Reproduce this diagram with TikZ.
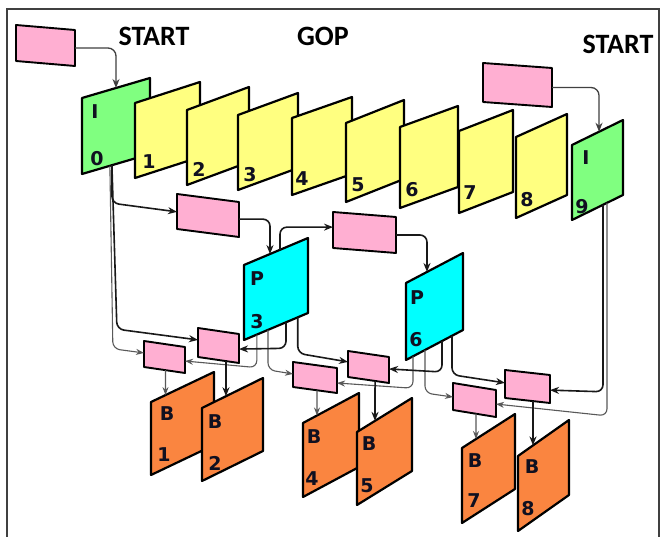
\documentclass[tikz,border=0pt]{standalone}
\usepackage{fontspec}
\usetikzlibrary{arrows.meta,calc}
\newfontfamily\framefont{DejaVu Sans}
\newfontfamily\headfont{Carlito}

\definecolor{gopgreen}{HTML}{80FF80}
\definecolor{gopyellow}{HTML}{FFFF80}
\definecolor{gopcyan}{HTML}{00FFFF}
\definecolor{goporange}{HTML}{FA8540}
\definecolor{refpink}{HTML}{FFAFD2}
\definecolor{labelink}{HTML}{101020}

\tikzset{
  frameline/.style={draw=black, line width=2.2pt, line join=round},
  pinkline/.style={draw=black, line width=1.9pt, fill=refpink, line join=round},
  link/.style={draw=black!90, line width=1.6pt, rounded corners=7pt,
    -{Stealth[length=9pt,width=7pt]}},
  faint/.style={draw=black!65, line width=1.1pt, rounded corners=7pt,
    -{Stealth[length=8pt,width=6pt]}},
  startlink/.style={draw=black!75, line width=1.3pt, rounded corners=8pt,
    -{Stealth[length=9pt,width=7pt]}},
  framelab/.style={font=\framefont\bfseries\fontsize{19}{19}\selectfont,
    text=labelink, inner sep=0pt},
  headlab/.style={font=\headfont\bfseries\fontsize{28}{28}\selectfont,
    text=black, inner sep=0pt},
}

% picture frame: name, fill colour, x, y of top-left corner, width, rise, height
\newcommand{\gopframe}[7]{%
  \draw[frameline, fill=#2] (#3,#4) coordinate (#1-tl)
    -- ++(#5,-#6) coordinate (#1-tr)
    -- ++(0,#7) coordinate (#1-br)
    -- ++(-#5,#6) coordinate (#1-bl) -- cycle;}

% reference box: name, x, y of top-left corner, width, height, drop
\newcommand{\refbox}[6]{%
  \draw[pinkline] (#2,#3) coordinate (#1-tl)
    -- ++(#4,#6) coordinate (#1-tr)
    -- ++(0,#5) coordinate (#1-br)
    -- ++(-#4,-#6) coordinate (#1-bl) -- cycle;}

\begin{document}
\begin{tikzpicture}[x=1pt,y=-1pt]
\useasboundingbox (0,0) rectangle (665,537);
\fill[white] (0,0) rectangle (665,537);

% outer frame
\draw[draw=black!75, line width=1.4pt] (7,537) -- (7,9) -- (659,9) -- (659,537);

% headings
\node[headlab] (h-start1) at (154,36) {START};
\node[headlab] (h-gop) at (323,36) {GOP};
\node[headlab] (h-start2) at (618,44) {START};

% the GOP row
\gopframe{I0}{gopgreen}{82}{98}{68}{20}{76}
\gopframe{Y1}{gopyellow}{135}{103}{65}{21}{75}
\gopframe{Y2}{gopyellow}{187}{110}{62}{23}{75}
\gopframe{Y3}{gopyellow}{238}{115}{60}{22}{75}
\gopframe{Y4}{gopyellow}{292}{118}{60}{21}{77}
\gopframe{Y5}{gopyellow}{346}{123}{58}{23}{79}
\gopframe{Y6}{gopyellow}{400}{127}{58}{21}{81}
\gopframe{Y7}{gopyellow}{459}{131}{54}{21}{82}
\gopframe{Y8}{gopyellow}{516}{137}{51}{23}{81}
\gopframe{I9}{gopgreen}{572}{145}{51}{25}{75}

% predicted frames
\gopframe{P3}{gopcyan}{244}{265}{64}{27}{75}
\gopframe{P6}{gopcyan}{406}{283}{57}{30}{77}

% bidirectional frames
\gopframe{B1}{goporange}{151}{402}{63}{30}{73}
\gopframe{B2}{goporange}{202}{408}{61}{30}{73}
\gopframe{B4}{goporange}{303}{423}{56}{30}{74}
\gopframe{B5}{goporange}{357}{432}{55}{34}{73}
\gopframe{B7}{goporange}{462}{448}{53}{34}{75}
\gopframe{B8}{goporange}{518}{456}{51}{36}{75}

% frame labels
\node[framelab] (l-i0a) at (95,112) {I};
\node[framelab] (l-i0b) at (97,159) {0};
\node[framelab] (l-y1) at (149,162) {1};
\node[framelab] (l-y2) at (199,169) {2};
\node[framelab] (l-y3) at (250,175) {3};
\node[framelab] (l-y4) at (302,179) {4};
\node[framelab] (l-y5) at (358,185) {5};
\node[framelab] (l-y6) at (412,190) {6};
\node[framelab] (l-y7) at (470,193) {7};
\node[framelab] (l-y8) at (527,200) {8};
\node[framelab] (l-i9a) at (586,158) {I};
\node[framelab] (l-i9b) at (582,207) {9};
\node[framelab] (l-p3a) at (257,279) {P};
\node[framelab] (l-p3b) at (257,322) {3};
\node[framelab] (l-p6a) at (417,298) {P};
\node[framelab] (l-p6b) at (416,340) {6};
\node[framelab] (l-b1a) at (167,414) {B};
\node[framelab] (l-b1b) at (164,455) {1};
\node[framelab] (l-b2a) at (215,422) {B};
\node[framelab] (l-b2b) at (215,463) {2};
\node[framelab] (l-b4a) at (314,437) {B};
\node[framelab] (l-b4b) at (312,479) {4};
\node[framelab] (l-b5a) at (369,444) {B};
\node[framelab] (l-b5b) at (367,486) {5};
\node[framelab] (l-b7a) at (475,461) {B};
\node[framelab] (l-b7b) at (474,501) {7};
\node[framelab] (l-b8a) at (532,467) {B};
\node[framelab] (l-b8b) at (528,509) {8};

% reference boxes
\refbox{R0}{16}{25}{59}{36}{5}
\refbox{R1}{177}{194}{62}{35}{8}
\refbox{R2}{333}{212}{63}{36}{5}
\refbox{R9}{483}{63}{69}{39}{5}
\refbox{RB1}{144}{341}{41}{26}{6}
\refbox{RB2}{198}{328}{41}{29}{6}
\refbox{RB4}{293}{362}{44}{25}{6}
\refbox{RB5}{348}{351}{41}{26}{6}
\refbox{RB7}{453}{383}{43}{27}{7}
\refbox{RB8}{505}{370}{45}{28}{5}

% start of each GOP
\draw[startlink] ($(R0-tr)!0.5!(R0-br)$) -| ($(I0-tl)!0.5!(I0-tr)$);
\draw[startlink] ($(R9-tr)!0.5!(R9-br)$) -| ($(I9-tl)!0.53!(I9-tr)$);

% forward prediction chain
\draw[link] ($(I0-bl)!0.44!(I0-br)$) -- ++(0,38) -- ($(R1-tl)!0.51!(R1-bl)$);
\draw[link] ($(R1-tr)!0.49!(R1-br)$) -| ($(P3-tl)!0.406!(P3-tr)$);
\draw[link] ($(P3-tl)!0.5625!(P3-tr)$) |- ($(R2-tl)!0.42!(R2-bl)$);
\draw[link] ($(R2-tr)!0.5!(R2-br)$) -| ($(P6-tl)!0.368!(P6-tr)$);

% references out of I0
\draw[link] ($(I0-bl)!0.44!(I0-br)$) -- ++(5,164) -- ($(RB2-tl)!0.41!(RB2-bl)$);
\draw[faint] ($(I0-bl)!0.41!(I0-br)$) -- ++(3,183) -- ($(RB1-tl)!0.46!(RB1-bl)$);

% references out of P3
\draw[faint] ($(P3-bl)!0.2!(P3-br)$) -- ++(0,33) -- ($(RB1-tr)!0.54!(RB1-br)$);
\draw[faint] ($(P3-bl)!0.375!(P3-br)$) -- ++(0,40) -- ($(RB4-tl)!0.48!(RB4-bl)$);
\draw[link] ($(P3-bl)!0.656!(P3-br)$) -- ++(0,26) -- ($(RB2-tr)!0.52!(RB2-br)$);
\draw[link] ($(P3-bl)!0.84!(P3-br)$) -- ++(0,36) -- ($(RB5-tl)!0.42!(RB5-bl)$);

% references out of P6
\draw[faint] ($(P6-bl)!0.123!(P6-br)$) -- ++(0,32) -- ($(RB4-tr)!0.6!(RB4-br)$);
\draw[faint] ($(P6-bl)!0.333!(P6-br)$) -- ++(0,43) -- ($(RB7-tl)!0.52!(RB7-bl)$);
\draw[link] ($(P6-bl)!0.632!(P6-br)$) -- ++(0,31) -- ($(RB5-tr)!0.46!(RB5-br)$);
\draw[link] ($(P6-bl)!0.807!(P6-br)$) -- ++(0,39) -- ($(RB8-tl)!0.46!(RB8-bl)$);

% references out of I9
\draw[link] ($(I9-bl)!0.608!(I9-br)$) -- ++(0,187) -- ($(RB8-tr)!0.54!(RB8-br)$);
\draw[faint] ($(I9-bl)!0.686!(I9-br)$) -- ++(0,213) -- ($(RB7-tr)!0.52!(RB7-br)$);

% reference boxes into B frames
\draw[faint] ($(RB1-bl)!0.524!(RB1-br)$) -- ($(B1-tl)!0.23!(B1-tr)$);
\draw[link] ($(RB2-bl)!0.683!(RB2-br)$) -- ($(B2-tl)!0.393!(B2-tr)$);
\draw[faint] ($(RB4-bl)!0.545!(RB4-br)$) -- ($(B4-tl)!0.25!(B4-tr)$);
\draw[link] ($(RB5-bl)!0.66!(RB5-br)$) -- ($(B5-tl)!0.327!(B5-tr)$);
\draw[faint] ($(RB7-bl)!0.535!(RB7-br)$) -- ($(B7-tl)!0.264!(B7-tr)$);
\draw[link] ($(RB8-bl)!0.622!(RB8-br)$) -- ($(B8-tl)!0.294!(B8-tr)$);
\end{tikzpicture}
\end{document}
